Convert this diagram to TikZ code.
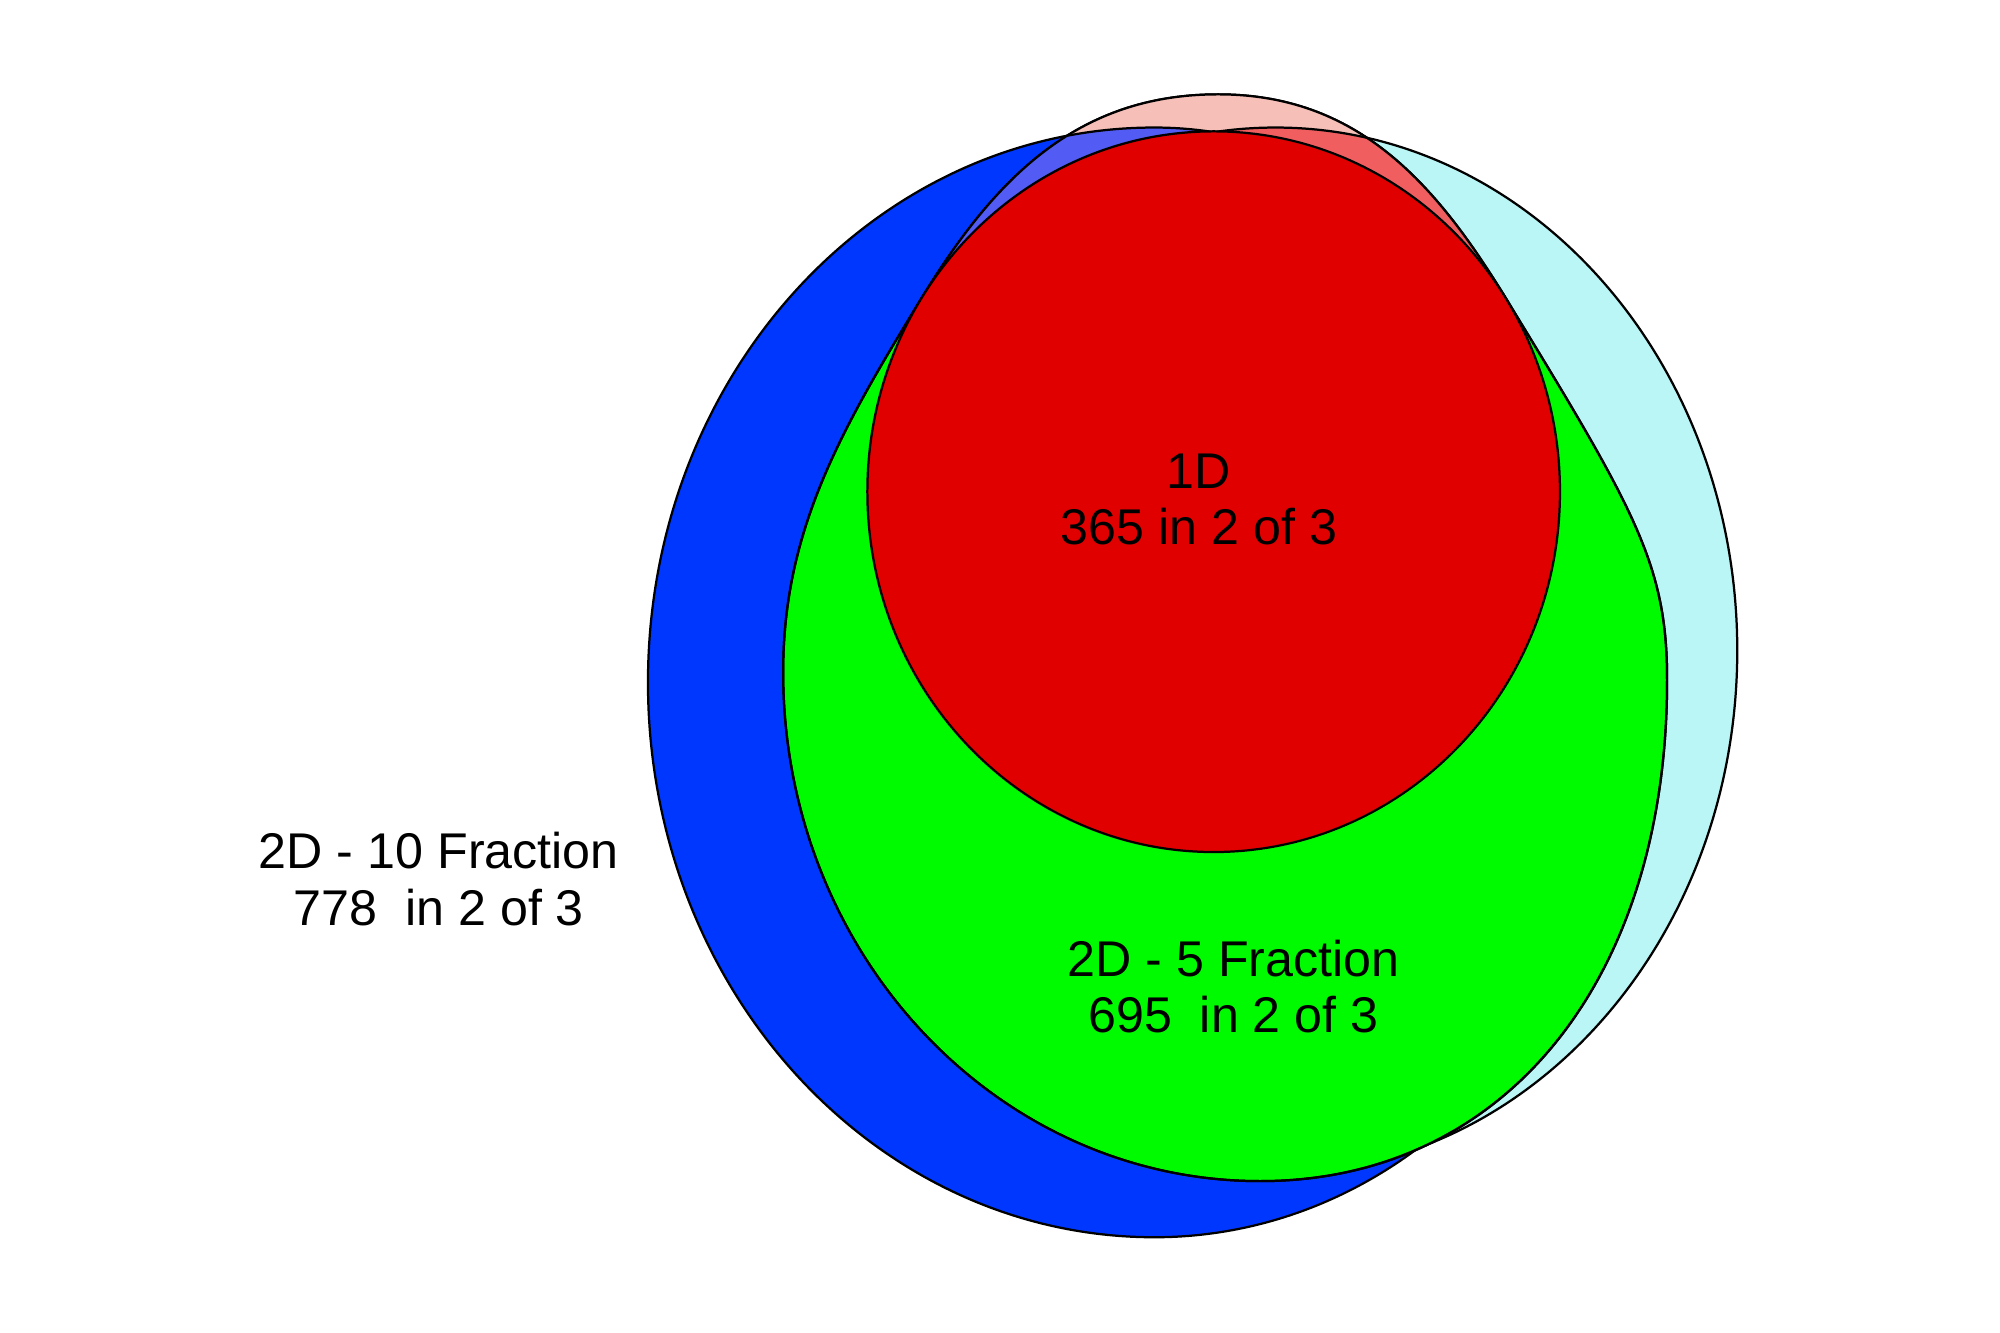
\documentclass[tikz,border=0pt]{standalone}
\usepackage{fontspec}
\setmainfont{Liberation Sans}
\definecolor{tenblue}{RGB}{0,55,255}
\definecolor{tencyan}{RGB}{186,246,246}
\definecolor{fivegreen}{RGB}{0,250,0}
\definecolor{onered}{RGB}{225,0,0}
\definecolor{cappink}{RGB}{246,192,184}
\definecolor{capblue}{RGB}{82,92,245}
\definecolor{capred}{RGB}{240,94,96}

\begin{document}
\begin{tikzpicture}[
    outline/.style={draw=black, line width=0.5pt},
    setlabel/.style={align=center, text=black, font=\fontsize{11.2}{12.6}\selectfont}
  ]
    % Frame
    \useasboundingbox (0,0) rectangle (15.68,10.45);

    % Key points of the 2D-10 outline
    \coordinate (bB) at (9.05,0.75);
    \coordinate (bR) at (12.75,4.85);
    \coordinate (bT) at (9.05,9.45);
    \coordinate (bL) at (5.08,5.10);

    % Key points of the 2D-5 outline
    \coordinate (gL) at (6.14,5.18);
    \coordinate (tL) at (7.223,8.109);
    \coordinate (gT) at (9.55,9.71);
    \coordinate (tR) at (11.807,8.109);
    \coordinate (gR) at (13.07,5.12);
    \coordinate (gB) at (9.88,1.19);

    % Set outlines
    \def\cyanset{(10.00,5.35) ellipse [x radius=3.62, y radius=4.10]}
    \def\blueset{(bB) .. controls (11.094,0.75) and (12.75,2.586) .. (bR)
        .. controls (12.75,7.391) and (11.094,9.45) .. (bT)
        .. controls (6.857,9.45) and (5.08,7.503) .. (bL)
        .. controls (5.08,2.698) and (6.857,0.75) .. (bB) -- cycle}
    \def\redset{(9.515,6.595) ellipse [x radius=2.715, y radius=2.825]}
    \def\greenset{(gL) .. controls (6.14,6.30) and (6.598,7.086) .. (tL)
        to[out=58.6, in=180] (gT) to[out=0, in=121.4] (tR)
        .. controls (12.823,6.447) and (13.07,6.02) .. (gR)
        .. controls (13.07,2.76) and (11.79,1.19) .. (gB)
        .. controls (7.81,1.19) and (6.14,2.976) .. (gL) -- cycle}

    % 2D - 10 Fraction
    \path[outline, fill=tencyan] \cyanset;
    \path[outline, fill=tenblue] \blueset;

    % 2D - 5 Fraction
    \path[outline, fill=fivegreen] \greenset;

    % Top cap above the 1D circle
    \begin{scope}
        \clip \greenset;
        \clip (0,8.109) rectangle (15.68,10.45);
        \fill[cappink] (0,8) rectangle (15.68,10.45);
        \path[outline, fill=capred] \cyanset;
        \path[outline, fill=capblue] \blueset;
    \end{scope}
    \path[outline] \greenset;

    % 1D
    \path[outline, fill=onered] \redset;

    % Labels
    \node[setlabel] (lbl1D) at (9.40,6.535) {1D\\365 in 2 of 3};
    \node[setlabel] (lblfive) at (9.67,2.715) {2D - 5 Fraction\\695~ in 2 of 3};
    \node[setlabel] (lblten) at (3.44,3.56) {2D - 10 Fraction\\778~ in 2 of 3};
\end{tikzpicture}
\end{document}
